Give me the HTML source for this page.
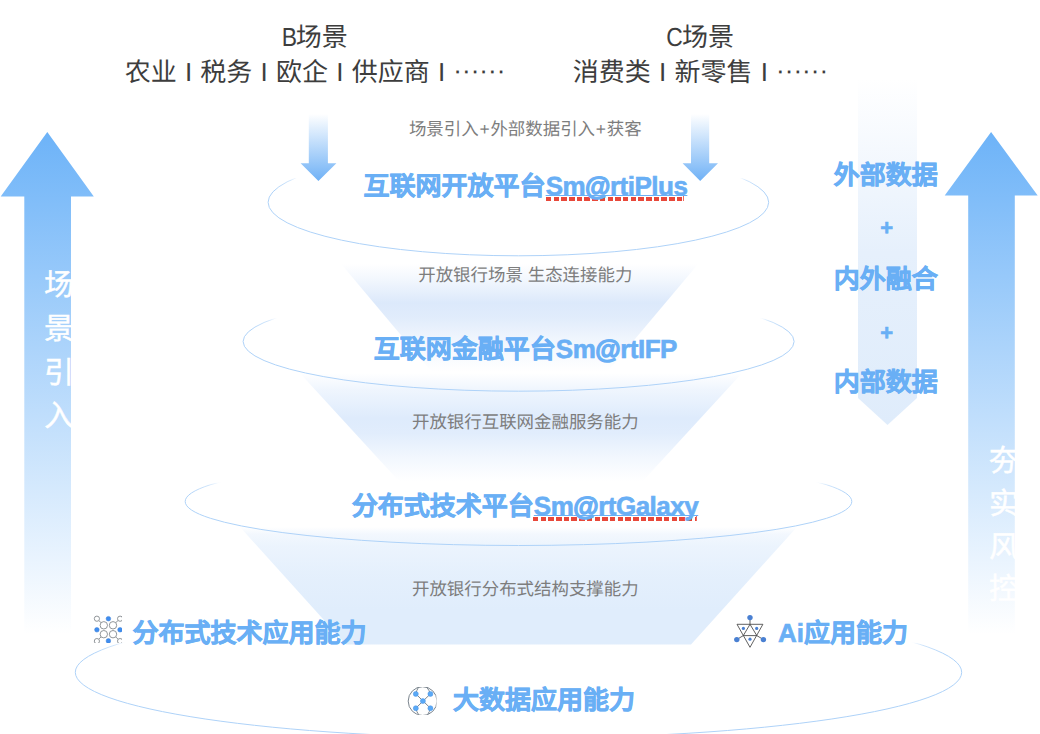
<!DOCTYPE html>
<html lang="zh-CN">
<head>
<meta charset="utf-8">
<title>开放银行平台架构</title>
<style>
  html, body { margin: 0; padding: 0; background: #ffffff; }
  body { width: 1040px; height: 734px; overflow: hidden; position: relative;
         font-family: "Liberation Sans", sans-serif; }
  #stage { position: absolute; left: 0; top: 0; width: 1040px; height: 734px; overflow: hidden; background: #fff; }
  #art { position: absolute; left: 0; top: 0; }
  .t { position: absolute; white-space: nowrap; line-height: 1; font-family: "Liberation Sans", sans-serif; text-rendering: geometricPrecision; }
  .c { transform: translateX(-50%); }
  .head { font-size: 26px; color: #3d3d3d; }
  .head .lat { display: inline-block; transform: scaleX(0.88); transform-origin: 100% 50%; margin-right: -0.6px; }
  .ws { word-spacing: 1px; }
  .dots { position: relative; top: -2px; }
  .lab  { font-size: 17.45px; color: #7d7d7d; }
  .lab .p { margin: 0 0.8px; }
  .ttl  { font-size: 26px; font-weight: bold; color: #69aff5; -webkit-text-stroke: 0.6px #69aff5; }
  .ttl .en { font-size: 26px; letter-spacing: -0.5px; }
  .side { font-size: 26px; font-weight: bold; color: #69aff5; -webkit-text-stroke: 0.6px #69aff5; }
  .vert { font-size: 30px; color: #ffffff; width: 30px; line-height: 43.7px; white-space: normal; word-break: break-all; -webkit-text-stroke: 0.45px #ffffff; }
  .sq { position: absolute; height: 4px;
        background: repeating-linear-gradient(90deg, #e8483a 0, #e8483a 5.5px, transparent 5.5px, transparent 7.7px); }
  .tick { position: absolute; width: 1px; height: 5.5px; background: #e8483a; opacity: .8; }
  .u { text-decoration: underline; text-decoration-thickness: 1.3px; text-underline-offset: 0.3px; text-decoration-skip-ink: none; }
  .at { -webkit-text-stroke: 1.3px #69aff5; }
</style>
</head>
<body>
<div id="stage">
<svg id="art" width="1040" height="734" viewBox="0 0 1040 734">
  <defs>
    <linearGradient id="gUp" gradientUnits="userSpaceOnUse" x1="0" y1="132" x2="0" y2="634">
      <stop offset="0" stop-color="#6db3f8"/>
      <stop offset="1" stop-color="#ffffff"/>
    </linearGradient>
    <linearGradient id="gDown" gradientUnits="userSpaceOnUse" x1="0" y1="114" x2="0" y2="181">
      <stop offset="0" stop-color="#ffffff"/>
      <stop offset="1" stop-color="#6fb1f6"/>
    </linearGradient>
    <linearGradient id="gBand" gradientUnits="userSpaceOnUse" x1="0" y1="79" x2="0" y2="425">
      <stop offset="0" stop-color="#ffffff"/>
      <stop offset="0.5" stop-color="#e6f0fc"/>
      <stop offset="1" stop-color="#dfecfb"/>
    </linearGradient>
    <linearGradient id="gT1" gradientUnits="userSpaceOnUse" x1="0" y1="264" x2="0" y2="372">
      <stop offset="0" stop-color="#dce9fb" stop-opacity="0"/>
      <stop offset="0.12" stop-color="#dce9fb" stop-opacity="0.3"/>
      <stop offset="0.36" stop-color="#dce9fb" stop-opacity="1"/>
      <stop offset="0.5" stop-color="#dce9fb" stop-opacity="0.86"/>
      <stop offset="0.7" stop-color="#dce9fb" stop-opacity="0.42"/>
      <stop offset="1" stop-color="#dce9fb" stop-opacity="0"/>
    </linearGradient>
    <linearGradient id="gT2" gradientUnits="userSpaceOnUse" x1="0" y1="373" x2="0" y2="481">
      <stop offset="0" stop-color="#deebfc" stop-opacity="0"/>
      <stop offset="0.16" stop-color="#deebfc" stop-opacity="0.5"/>
      <stop offset="0.42" stop-color="#deebfc" stop-opacity="1"/>
      <stop offset="0.56" stop-color="#deebfc" stop-opacity="0.9"/>
      <stop offset="0.78" stop-color="#deebfc" stop-opacity="0.4"/>
      <stop offset="1" stop-color="#deebfc" stop-opacity="0"/>
    </linearGradient>
    <linearGradient id="gT3" gradientUnits="userSpaceOnUse" x1="0" y1="527" x2="0" y2="645">
      <stop offset="0" stop-color="#e0edfc" stop-opacity="0"/>
      <stop offset="0.06" stop-color="#e0edfc" stop-opacity="0.4"/>
      <stop offset="0.16" stop-color="#e0edfc" stop-opacity="0.62"/>
      <stop offset="0.4" stop-color="#e0edfc" stop-opacity="0.85"/>
      <stop offset="0.7" stop-color="#e0edfc" stop-opacity="1"/>
      <stop offset="1" stop-color="#e0edfc" stop-opacity="1"/>
    </linearGradient>
    <linearGradient id="gE1" gradientUnits="userSpaceOnUse" x1="0" y1="177.5" x2="0" y2="190">
      <stop offset="0" stop-color="#aed2f8" stop-opacity="0"/>
      <stop offset="0.25" stop-color="#aed2f8" stop-opacity="0.6"/>
      <stop offset="1" stop-color="#aed2f8" stop-opacity="1"/>
    </linearGradient>
    <linearGradient id="gE2" gradientUnits="userSpaceOnUse" x1="0" y1="318" x2="0" y2="330">
      <stop offset="0" stop-color="#aed2f8" stop-opacity="0"/>
      <stop offset="0.25" stop-color="#aed2f8" stop-opacity="0.6"/>
      <stop offset="1" stop-color="#aed2f8" stop-opacity="1"/>
    </linearGradient>
    <linearGradient id="gE3" gradientUnits="userSpaceOnUse" x1="0" y1="482.3" x2="0" y2="494">
      <stop offset="0" stop-color="#aed2f8" stop-opacity="0"/>
      <stop offset="0.25" stop-color="#aed2f8" stop-opacity="0.6"/>
      <stop offset="1" stop-color="#aed2f8" stop-opacity="1"/>
    </linearGradient>
    <linearGradient id="gE4" gradientUnits="userSpaceOnUse" x1="0" y1="642.3" x2="0" y2="654">
      <stop offset="0" stop-color="#aed2f8" stop-opacity="0"/>
      <stop offset="0.25" stop-color="#aed2f8" stop-opacity="0.6"/>
      <stop offset="1" stop-color="#aed2f8" stop-opacity="1"/>
    </linearGradient>
  </defs>

  <!-- right data band (down pointing) -->
  <polygon points="858,79 917,79 917,398 887.5,425 858,398" fill="url(#gBand)"/>

  <!-- funnel light beams -->
  <polygon points="341.2,264 698.1,264 607.3,372 431.9,372" fill="url(#gT1)"/>
  <polygon points="299.8,373 742.1,373 642.9,481 398.8,481" fill="url(#gT2)"/>
  <polygon points="240,527 797,527 691,644.5 346,644.5" fill="url(#gT3)"/>

  <!-- ellipses -->
  <ellipse cx="518.4" cy="202.3" rx="250.3" ry="53.5" fill="none" stroke="url(#gE1)" stroke-width="1"/>
  <ellipse cx="518.6" cy="341.5" rx="275.5" ry="49.7" fill="none" stroke="url(#gE2)" stroke-width="1"/>
  <ellipse cx="518.5" cy="501.5" rx="333.3" ry="44" fill="none" stroke="url(#gE3)" stroke-width="1"/>
  <ellipse cx="518.5" cy="672.3" rx="443.2" ry="66" fill="none" stroke="url(#gE4)" stroke-width="1"/>

  <!-- big up arrows -->
  <polygon points="47.3,132 93.8,196.5 71,196.5 71,634 24.3,634 24.3,196.5 0.7,196.5" fill="url(#gUp)"/>
  <polygon points="991.1,132 1037.7,195.5 1014.8,195.5 1014.8,634 968.2,634 968.2,195.5 944.7,195.5" fill="url(#gUp)"/>

  <!-- small down arrows -->
  <polygon points="308.8,114 327.9,114 327.9,163.2 336.4,163.2 318.4,181 300.6,163.2 308.8,163.2" fill="url(#gDown)"/>
  <polygon points="691,114 709.2,114 709.2,163.2 718,163.2 700.2,181 682.6,163.2 691,163.2" fill="url(#gDown)"/>

  <!-- icon: distributed technology (node lattice), clipped like the source bitmap -->
  <g id="icoDist">
    <rect x="92" y="613" width="30" height="30" fill="#ffffff"/>
    <clipPath id="clipDist"><rect x="92" y="613" width="30" height="29.9"/></clipPath>
    <g clip-path="url(#clipDist)" fill="none" stroke="#858a8f" stroke-width="0.9">
      <line x1="98.8" y1="620.6" x2="101.6" y2="623.1"/>
      <line x1="118" y1="620.6" x2="115.2" y2="623.1"/>
      <line x1="98.8" y1="639.1" x2="101.6" y2="636.4"/>
      <line x1="118" y1="639.1" x2="115.2" y2="636.4"/>
      <circle cx="96.9" cy="618.7" r="2.6" fill="#ffffff"/>
      <circle cx="120.1" cy="618.7" r="2.6" fill="#ffffff"/>
      <circle cx="96.9" cy="641.1" r="2.6" fill="#ffffff"/>
      <circle cx="120.1" cy="641.1" r="2.6" fill="#ffffff"/>
      <circle cx="103.8" cy="625.3" r="3.7" fill="#ffffff"/>
      <circle cx="113" cy="625.3" r="3.7" fill="#ffffff"/>
      <circle cx="103.8" cy="634.2" r="3.7" fill="#ffffff"/>
      <circle cx="113" cy="634.2" r="3.7" fill="#ffffff"/>
      <g fill="#3f8def" stroke="#3a7fd6" stroke-width="0.5">
        <circle cx="108.4" cy="618.7" r="2.3"/>
        <circle cx="96.9" cy="629.8" r="2.3"/>
        <circle cx="120" cy="629.8" r="2.3"/>
        <circle cx="108.4" cy="640.9" r="2.3"/>
      </g>
    </g>
  </g>

  <!-- icon: AI (triangles with nodes) -->
  <g id="icoAi" fill="none" stroke="#444444" stroke-width="0.85" stroke-linejoin="miter">
    <line x1="750" y1="618" x2="750" y2="624.3"/>
    <polygon points="737,624.3 762.9,624.3 750,647.3"/>
    <polygon points="750,624.3 756.8,635.6 743.3,635.6"/>
    <line x1="743.3" y1="635.6" x2="737" y2="639.4"/>
    <line x1="756.8" y1="635.6" x2="763.2" y2="639.4"/>
    <g fill="#4a80d2" stroke="none">
      <circle cx="750" cy="617.6" r="2.7"/>
      <circle cx="736.8" cy="639.6" r="2.7"/>
      <circle cx="763.4" cy="639.6" r="2.7"/>
      <circle cx="743.4" cy="628.4" r="1.6"/>
      <circle cx="756.7" cy="628.4" r="1.6"/>
      <circle cx="750" cy="639.2" r="1.6"/>
    </g>
  </g>

  <!-- icon: big data (globe with nodes) -->
  <g id="icoData">
    <clipPath id="clipData"><rect x="406" y="687" width="30.4" height="27.8"/></clipPath>
    <g clip-path="url(#clipData)" fill="none" stroke="#7b858e" stroke-width="1">
      <circle cx="422.6" cy="701.1" r="14.4"/>
      <path d="M418.6,687 Q416.5,690.5 415.8,693.9 L430.4,708.2 Q429.8,711.5 427.4,715"/>
      <path d="M426.6,687 Q429.4,690.5 430.4,693.9 L415.8,708.2 Q416.4,711.5 418.8,715"/>
      <g fill="#5aa9f6" stroke="#4b95e6" stroke-width="0.5">
        <circle cx="415.8" cy="693.9" r="2.5"/>
        <circle cx="430.4" cy="693.9" r="2.5"/>
        <circle cx="422.9" cy="701.1" r="2.5"/>
        <circle cx="415.8" cy="708.2" r="2.5"/>
        <circle cx="430.4" cy="708.2" r="2.5"/>
      </g>
    </g>
  </g>
</svg>

<!-- headings -->
<div class="t head c" style="left:313.5px; top:24px;"><span class="lat">B</span>场景</div>
<div class="t head c ws" style="left:315px; top:59px;">农业 I 税务 I 欧企 I 供应商 I <span class="dots">······</span></div>
<div class="t head c" style="left:699px; top:24px;"><span class="lat">C</span>场景</div>
<div class="t head c ws" style="left:700.4px; top:59px;">消费类 I 新零售 I <span class="dots">······</span></div>

<!-- grey labels -->
<div class="t lab c" style="left:525.3px; top:121.4px;">场景引入<span class="p">+</span>外部数据引入<span class="p">+</span>获客</div>
<div class="t lab c" style="left:525.3px; top:267px;">开放银行场景 生态连接能力</div>
<div class="t lab c" style="left:525.3px; top:413.6px;">开放银行互联网金融服务能力</div>
<div class="t lab c" style="left:525.3px; top:580.6px;">开放银行分布式结构支撑能力</div>

<!-- platform titles (spell-check style squiggles sit beneath the text) -->
<div class="sq" style="left:545.5px; top:196.7px; width:138px;"></div><div class="tick" style="left:683.3px; top:195px;"></div>
<div class="sq" style="left:533px; top:516.6px; width:162.5px;"></div><div class="tick" style="left:695.5px; top:515.5px;"></div>
<div class="t ttl c" style="left:525.5px; top:173px;">互联网开放平台<span class="en u">Sm<span class="at">@</span>rtiPlus</span></div>
<div class="t ttl c" style="left:525.4px; top:336px;">互联网金融平台<span class="en">Sm<span class="at">@</span>rtIFP</span></div>
<div class="t ttl c" style="left:525px; top:493px;">分布式技术平台<span class="en u">Sm<span class="at">@</span>rtGalaxy</span></div>

<!-- right side data labels -->
<div class="t side c" style="left:885.8px; top:161.5px;">外部数据</div>
<div class="t side c" style="left:886.6px; top:217.3px; font-size:22px;">+</div>
<div class="t side c" style="left:885.8px; top:265.5px;">内外融合</div>
<div class="t side c" style="left:886.6px; top:321.9px; font-size:22px;">+</div>
<div class="t side c" style="left:885.8px; top:369px;">内部数据</div>

<!-- vertical arrow captions -->
<div class="t vert" style="left:44px; top:264.2px;">场景引入</div>
<div class="t vert" style="left:989px; top:441px; line-height:42.8px;">夯实风控</div>

<!-- bottom capability labels -->
<div class="t ttl" style="left:132.5px; top:619.6px;">分布式技术应用能力</div>
<div class="t ttl" style="left:778px; top:619.6px;">Ai应用能力</div>
<div class="t ttl" style="left:453px; top:686.5px;">大数据应用能力</div>
</div>
</body>
</html>
